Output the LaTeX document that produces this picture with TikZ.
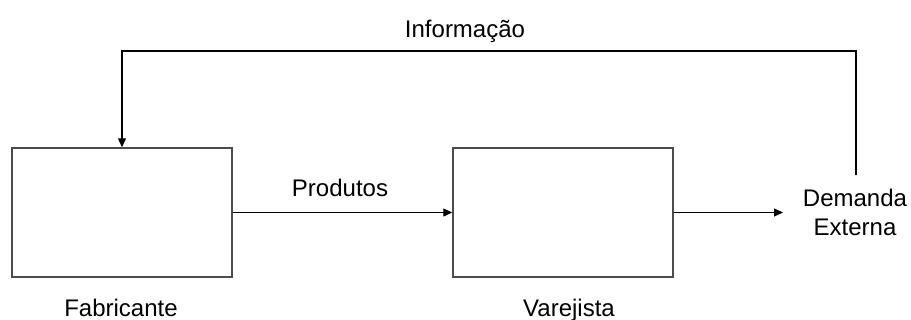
\documentclass[tikz,border=0pt]{standalone}
\usepackage{fontspec}
\setmainfont{Liberation Sans}
\usetikzlibrary{arrows.meta}
\begin{document}
\begin{tikzpicture}[x=1pt,y=-1pt,
  box/.style={draw=black!70,line width=1.4pt,minimum width=220pt,minimum height=129pt,inner sep=0pt},
  lbl/.style={font=\fontsize{24}{28}\selectfont,inner sep=0pt,anchor=base},
  conn/.style={line width=1.2pt,-{Triangle[length=9pt,width=8pt]}},
  plain/.style={line width=1.2pt}]
\useasboundingbox (0,0) rectangle (911,320);
\node[box] (fab) at (122,212.5) {};
\node[box] (var) at (563,212.5) {};
\node[lbl] (tfab) at (121,317) {Fabricante};
\node[lbl] (tvar) at (569,317) {Varejista};
\node[lbl] (tprod) at (340,197) {Produtos};
\node[lbl] (tinfo) at (465,38) {Informação};
\node[lbl] (tdem) at (855,207) {Demanda};
\node[lbl] (text) at (855,236) {Externa};
\coordinate (demin) at (783,212.5);
\coordinate (demtop) at (856,175);
\coordinate (loop) at (856,51);
\draw[conn] (fab.east) -- (var.west);
\draw[conn] (var.east) -- (demin);
\draw[conn] (demtop) -- (loop) -| (fab.north);
\end{tikzpicture}
\end{document}
